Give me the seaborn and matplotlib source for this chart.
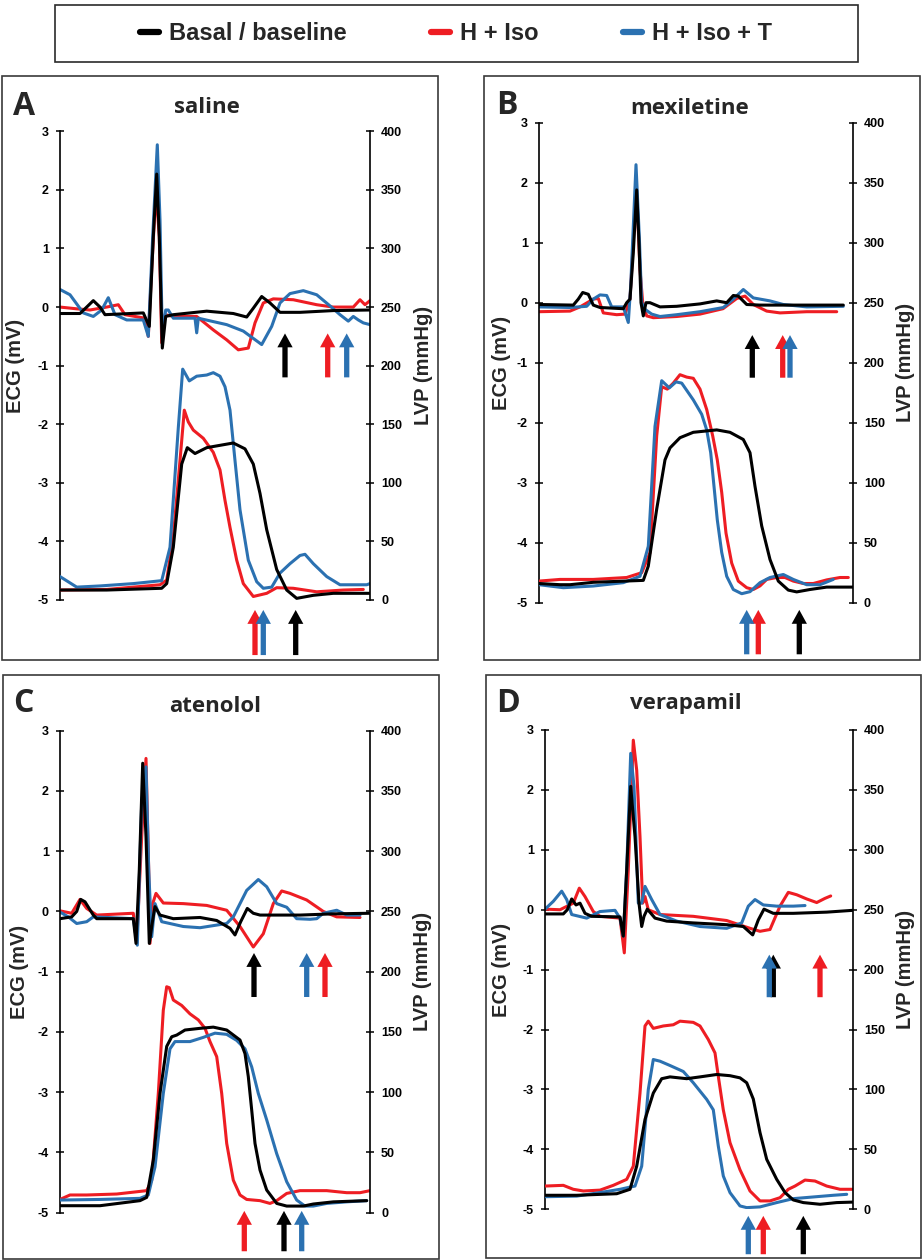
import numpy as np
import matplotlib
matplotlib.use("Agg")
import matplotlib.pyplot as plt
from matplotlib.patches import Rectangle
from matplotlib.lines import Line2D
import seaborn as sns

# ---------------- data ----------------
series_names = ["Basal / baseline", "H + Iso", "H + Iso + T"]
series_colors = ["#000000", "#ee1d23", "#2b71b1"]
panel_letters = ["A", "B", "C", "D"]
panel_titles = ["saline", "mexiletine", "atenolol", "verapamil"]
ecg_ticks = [-5, -4, -3, -2, -1, 0, 1, 2, 3]
lvp_ticks = [0, 50, 100, 150, 200, 250, 300, 350, 400]
time_spans = [310, 313.7, 310, 307.7]

# Panel A (saline) - ECG (mV)
a_ecg_k_t = [0,20,26.7,33.3,40,45,83.3,89.3,93.3,96.7,99.3,102.3,105.7,113.3,146.7,173.3,186.7,193.3,201.7,210,220,240,273.3,310]
a_ecg_k_v = [-0.11,-0.11,0,0.11,0,-0.13,-0.10,-0.33,1.20,2.27,1.20,-0.70,-0.16,-0.13,-0.07,-0.11,-0.17,-0.02,0.18,0.07,-0.09,-0.09,-0.06,-0.05]
a_ecg_r_t = [0,16.7,30,46.7,58.3,65,85,88.3,91.7,96,99.3,101.7,105,113.3,136.7,153.3,166.7,178.3,188.3,195,203.3,213.3,233.3,256.7,273.3,293.3,300,305,310]
a_ecg_r_v = [0,-0.03,-0.05,0,0.04,-0.13,-0.19,-0.50,0.64,2.0,1.20,-0.61,-0.13,-0.16,-0.16,-0.39,-0.56,-0.73,-0.70,-0.27,0.07,0.14,0.125,0.04,0,0,0.125,0.04,0.11]
a_ecg_b_t = [0,10,23.3,33.3,41.7,48.3,55,66.7,83.3,88.3,92.7,97.3,100,102.3,105.7,108.3,113.3,135,136.7,138.3,166.7,183.3,201.7,211.7,220,230,243.3,256.7,270,280,288.3,293.3,298.3,303.3,310]
a_ecg_b_v = [0.30,0.21,-0.10,-0.16,-0.05,0.16,-0.13,-0.22,-0.22,-0.50,1.20,2.77,1.49,-0.50,-0.05,-0.05,-0.19,-0.19,-0.44,-0.19,-0.30,-0.41,-0.64,-0.33,0.07,0.23,0.28,0.21,0.02,-0.13,-0.24,-0.16,-0.22,-0.27,-0.30]
# Panel A - LVP (mmHg)
a_lvp_k_t = [0,46.7,101.7,106.7,113.3,121.7,127.3,135,146.7,160,173.3,185,193.3,200,206.7,216.7,226.7,236.7,253.3,273.3,310]
a_lvp_k_p = [8.5,8.5,10,14,45,116,130,125,130,132,134,129,116,91,60,26,8.5,1.4,4,5.7,5.7]
a_lvp_r_t = [0,46.7,100,106.7,113.3,120,124.3,128.3,133.3,143.3,153.3,160,165,170,176.7,183.3,193.3,206.7,216.7,233.3,256.7,283.3,303.3]
a_lvp_r_p = [8.5,9,13,17,54,119,162,152,145,138,126,111,85,62,34,14,3,5.7,10.5,10,7,8.5,9]
a_lvp_b_t = [0,16.7,40,73.3,101.7,110,118.3,122.7,129.3,136.7,146.7,153.3,160,165,170,175,180,188.3,196.7,203.3,211.7,220,230,240,245,253.3,266.7,280,293.3,306.7,310]
a_lvp_b_p = [20,11,12,14,16.5,45,147,197,187,191,192,194,191,182,162,119,77,34,15.6,10,11,23,31,38,39,31,20,13,13,13,14]
a_arrow_ecg_t = [225, 267.7, 286.7]
a_arrow_lvp_t = [235.7, 195, 203.3]

# Panel B (mexiletine)
b_ecg_k_t = [0,34.3,39.3,43.7,49.3,54.3,61,84.3,87.7,91,94.3,97.7,100,102,104.3,107,111,121,137.7,161,177.7,187.7,194.3,199.3,207.7,221,254.3,304.3]
b_ecg_k_v = [-0.03,-0.04,0.06,0.17,0.14,-0.04,-0.08,-0.10,0,0.06,0.83,1.88,1.0,0,-0.22,0,0,-0.07,-0.06,-0.02,0.03,0,0.12,0.11,-0.03,-0.04,-0.04,-0.04]
b_ecg_r_t = [0,31,41,54.3,59.3,64.3,77.7,86,91,96,98,101,103.7,107.7,114.3,137.7,161,184,197.7,206,214.3,227.7,241,267.7,297.7]
b_ecg_r_v = [-0.15,-0.14,-0.07,0.06,0.07,-0.17,-0.20,-0.19,0.06,1.5,1.7,0.55,0,-0.22,-0.25,-0.23,-0.19,-0.10,0.07,0.11,-0.03,-0.14,-0.17,-0.15,-0.15]
b_ecg_b_t = [0,31,47.7,54.3,61,67.7,72.7,84.3,89.3,91.7,97,100.3,102.7,106,112.7,121,137.7,161,184.3,194.3,204.3,214.3,231,244.3,267.7,304.3]
b_ecg_b_v = [-0.07,-0.08,-0.06,0.06,0.13,0.12,-0.07,-0.07,-0.33,0.28,2.3,1.1,0,-0.11,-0.19,-0.23,-0.20,-0.15,-0.08,0.06,0.22,0.08,0.03,-0.03,-0.07,-0.06]
b_lvp_k_t = [0,21,31,54.3,104.3,109.3,117.7,126,131,141,154.3,177.7,191,204.3,211,216,222.7,231,239.3,249.3,257.7,271,287.7,313.7]
b_lvp_k_p = [16,15,15,17,18.6,30.5,78,119,129,137.5,142,144,142,136,125,97,64,36,18,10.5,9,11,13,13]
b_lvp_r_t = [0,21,54.3,87.7,102.7,111,117.7,122.7,128.3,134.3,141,147.7,154.3,161,167.7,173.7,178.3,182.7,187,192.7,199.3,207.7,214.3,221,227.7,237.7,246,254.3,264.3,274.3,287.7,301,309.3]
b_lvp_r_p = [18,19.4,19.4,21,25,41.7,139,180,178,183,190,188,187,178,161,139,119,92,58,33,18,12.5,11,14,19.4,21,21,18,16,16,19,21,21]
b_lvp_b_t = [0,24.3,54.3,84.3,101,109.3,116,122.7,130.3,137,142.7,154.3,162.7,167.7,171.7,175,178.3,182.7,187.7,194.3,202.7,211,221,231,244.3,254.3,267.7,281,294.3]
b_lvp_b_p = [15,12.5,13.9,16.7,22,47,147,185,179,184,183,169,157,144,125,97,69,42,22,11,7.5,9.2,16.7,21,23.5,19.4,15,15,19.4]
b_arrow_ecg_t = [213.3, 243.7, 251]
b_arrow_lvp_t = [260.3, 219.3, 207.7]

# Panel C (atenolol)
c_ecg_k_t = [0,11.7,16.7,20.7,25,33.3,36.7,73.3,76,79.3,82.7,86,89.3,92.7,95,100,113.3,140,156.7,170,175,180.7,187.3,193.3,200,240,273.3,310]
c_ecg_k_v = [-0.12,-0.09,0,0.2,0.16,-0.06,-0.12,-0.12,-0.53,0.69,2.46,1.24,-0.53,-0.14,0.08,-0.06,-0.12,-0.10,-0.15,-0.28,-0.39,-0.17,0.05,-0.03,-0.06,-0.06,-0.04,-0.03]
c_ecg_r_t = [0,11.7,20,26.7,36.7,73.3,76.7,81.7,86,88.7,90,92.7,96,103.3,123.3,146.7,166.7,180,193.3,203.3,213.3,221.7,230,246.7,263.3,276.7,300]
c_ecg_r_v = [0.01,-0.03,0.2,0.05,-0.06,-0.03,-0.53,1.24,2.54,0.69,-0.53,0.13,0.30,0.14,0.13,0.10,0.02,-0.25,-0.59,-0.37,0.13,0.34,0.30,0.19,0.0,-0.09,-0.10]
c_ecg_b_t = [0,8.3,16.7,26.7,33.3,73.3,77.3,81.7,86,88.7,91.7,95,101.7,123.3,140,166.7,173.3,186.7,198.3,206.7,216.7,226.7,236.7,250,256.7,263.3,276.7,286.7,300]
c_ecg_b_v = [-0.01,-0.09,-0.20,-0.17,-0.09,-0.12,-0.56,1.8,2.4,0.69,-0.42,0.13,-0.17,-0.25,-0.27,-0.20,-0.09,0.35,0.53,0.41,0.13,0.07,-0.12,-0.13,-0.12,-0.03,0.02,-0.06,-0.06]
c_lvp_k_t = [0,40,80,86.7,93.3,100,106.7,111.7,116.7,125,140,153.3,166.7,180,185,188.3,191.7,195,200,206.7,216.7,226.7,243.3,253.3,273.3,306.7]
c_lvp_k_p = [5.8,5.8,10,12.7,43.7,99,138,146,147.4,151.6,153,154,151.6,143.3,132,112.9,85.2,57.5,35.4,18.8,7.7,5.5,5.5,7.2,9,10]
c_lvp_r_t = [0,10,26.7,56.7,86.7,91.7,98.3,103.3,106.7,109.3,113.3,121.7,130,138.3,145,150,156.7,161.7,166.7,173.3,180,186.7,193.3,200,210,216.7,226.7,240,266.7,286.7,300,310]
c_lvp_r_p = [11,14.7,14.7,15.5,18.3,27,99,168,187.5,186.7,176.5,172,165,160,153,142,129.5,99,57.5,27,14.7,11,10.5,10,7.7,10,16,18.3,18.3,16.6,16.6,18.3]
c_lvp_b_t = [0,40,80,88.3,95,103.3,110,115,130,143.3,155,166.7,176.7,185,191.7,198.3,206.7,216.7,226.7,236.7,245,253.3,266.7,286.7,306.7]
c_lvp_b_p = [10.5,11,11.9,14.7,38,99,136,142,142,145.5,149,148,143,136,121,99,77,49,25.7,10.5,5.5,5.5,7.7,9,10]
c_arrow_ecg_t = [194, 265, 246.7]
c_arrow_lvp_t = [224, 184.3, 241.7]

# Panel D (verapamil)
d_ecg_k_t = [0,18.3,22.3,26.7,31,35,40,46.7,75,78.3,81.7,85.7,90,94,96.7,99,102.3,110,121.7,148.3,181.7,198.3,207.7,213.3,219,228.3,248.3,281.7,307.7]
d_ecg_k_v = [-0.07,-0.07,0,0.18,0.08,0.11,-0.06,-0.11,-0.12,-0.44,0.67,2.06,1.22,0.11,-0.28,-0.11,0.01,-0.14,-0.19,-0.22,-0.25,-0.28,-0.42,-0.17,0.01,-0.06,-0.06,-0.04,-0.01]
d_ecg_r_t = [0,15,28.3,34.3,40,48.3,55,75,79.3,83.3,88.3,91.7,95,97.7,100,103.3,115,148.3,181.7,205,215,225,235,243.3,251.7,261.7,271.7,280,285.7]
d_ecg_r_v = [0.01,0,0.11,0.36,0.22,-0.03,-0.11,-0.14,-0.72,0.67,2.83,2.33,1.22,0.11,0.22,0,-0.08,-0.11,-0.18,-0.31,-0.36,-0.33,0.06,0.29,0.25,0.18,0.12,0.19,0.23]
d_ecg_b_t = [0,8.3,16.7,21.7,26.7,41.7,55,70,75,78.3,81.7,85.7,89,93.3,96.7,100,106.7,115,131.7,155,181.7,196.7,203.3,210,218.3,231.7,248.3,260]
d_ecg_b_v = [0.01,0.14,0.31,0.17,-0.08,-0.14,-0.03,-0.01,-0.14,-0.44,0.67,2.61,2.06,0.11,0.11,0.39,0.17,-0.08,-0.19,-0.28,-0.31,-0.22,0.06,0.17,0.08,0.06,0.06,0.07]
d_lvp_k_t = [0,31.7,71.7,85,91.7,100,108.3,116.7,125,141.7,155,171.7,185,195,201.7,208.3,215,221.7,231.7,240,248.3,258.3,275,291.7,307.7]
d_lvp_k_p = [11.7,11.7,13,16.7,36,75,97,109,110.5,109,110.5,112.5,111.5,109.7,105.6,92,64,41.7,25,14,7.8,5.6,4.2,5.6,6]
d_lvp_r_t = [0,18.3,28.3,38.3,55,68.3,81.7,88.3,95,100,103.3,108.3,118.3,128.3,135,148.3,155,163.3,170,173.3,178.3,185,195,205,215,225,235,243.3,250,260,270,281.7,295,307.7]
d_lvp_r_p = [19.4,20,16.7,15.3,16,20,25,36,97,153,157,151,153,154,157,156,153,141.7,130.5,111,83,55.6,33,15.3,7,7,9.7,16.7,19.4,24.4,23.6,19.4,16.7,16.7]
d_lvp_b_t = [0,31.7,58.3,75,90,96.7,103.3,108.3,115,125,138.3,148.3,161.7,168.3,173.3,178.3,185,195,201.7,215,231.7,248.3,268.3,288.3,301.7]
d_lvp_b_p = [10.5,11,14.4,16.7,19.4,36,100,125,123.6,120,115,105.6,91.7,83,52.8,27.8,13.9,2.8,1.4,2,5.6,8.9,10.3,11.7,12.5]
d_arrow_ecg_t = [228.3, 275, 224.3]
d_arrow_lvp_t = [258.3, 218.3, 203.3]

# ---------------- style ----------------
sns.set_style("white")
plt.rcParams["font.family"] = ["Liberation Sans", "DejaVu Sans"]
plt.rcParams["font.weight"] = "bold"
plt.rcParams["axes.unicode_minus"] = False
TITLE_FONT = ["Open Sans", "DejaVu Sans"]

W, H = 923, 1260
fig = plt.figure(figsize=(W / 100, H / 100), dpi=100)
fig.patch.set_facecolor("white")


def fig_rect(x0, y0, x1, y1):
    return [x0 / W, 1 - y1 / H, (x1 - x0) / W, (y1 - y0) / H]


def add_box(x0, y0, x1, y1, ec="#3a3a3a", lw=1.2):
    r = fig_rect(x0, y0, x1, y1)
    fig.add_artist(Rectangle((r[0], r[1]), r[2], r[3], transform=fig.transFigure,
                             fill=False, ec=ec, lw=lw))


panels = [
    dict(ecg=[(a_ecg_r_t, a_ecg_r_v), (a_ecg_b_t, a_ecg_b_v), (a_ecg_k_t, a_ecg_k_v)],
         lvp=[(a_lvp_r_t, a_lvp_r_p), (a_lvp_b_t, a_lvp_b_p), (a_lvp_k_t, a_lvp_k_p)],
         arr_e=a_arrow_ecg_t, arr_l=a_arrow_lvp_t,
         axpx=(60, 131.3, 370, 600), box=(2, 76, 438, 660),
         ay=(-0.45, -1.2, -5.17, -5.94), lab=(-0.142, 1.171),
         title_xy=(207, 113), letter_xy=(13, 115)),
    dict(ecg=[(b_ecg_r_t, b_ecg_r_v), (b_ecg_b_t, b_ecg_b_v), (b_ecg_k_t, b_ecg_k_v)],
         lvp=[(b_lvp_r_t, b_lvp_r_p), (b_lvp_b_t, b_lvp_b_p), (b_lvp_k_t, b_lvp_k_p)],
         arr_e=b_arrow_ecg_t, arr_l=b_arrow_lvp_t,
         axpx=(539, 122.7, 852.7, 602.7), box=(484, 76, 920, 660),
         ay=(-0.54, -1.25, -5.12, -5.86), lab=(-0.121, 1.167),
         title_xy=(690, 114), letter_xy=(496, 114)),
    dict(ecg=[(c_ecg_r_t, c_ecg_r_v), (c_ecg_b_t, c_ecg_b_v), (c_ecg_k_t, c_ecg_k_v)],
         lvp=[(c_lvp_r_t, c_lvp_r_p), (c_lvp_b_t, c_lvp_b_p), (c_lvp_k_t, c_lvp_k_p)],
         arr_e=c_arrow_ecg_t, arr_l=c_arrow_lvp_t,
         axpx=(60, 730.7, 370, 1212.7), box=(3, 675, 439, 1259),
         ay=(-0.69, -1.42, -4.97, -5.64), lab=(-0.132, 1.168),
         title_xy=(215, 711.5), letter_xy=(13, 712.5)),
    dict(ecg=[(d_ecg_r_t, d_ecg_r_v), (d_ecg_b_t, d_ecg_b_v), (d_ecg_k_t, d_ecg_k_v)],
         lvp=[(d_lvp_r_t, d_lvp_r_p), (d_lvp_b_t, d_lvp_b_p), (d_lvp_k_t, d_lvp_k_p)],
         arr_e=d_arrow_ecg_t, arr_l=d_arrow_lvp_t,
         axpx=(545, 730, 852.7, 1209.3), box=(486, 675, 921, 1258),
         ay=(-0.75, -1.46, -5.11, -5.75), lab=(-0.140, 1.170),
         title_xy=(686, 709.5), letter_xy=(496, 712.5)),
]

draw_colors = [series_colors[1], series_colors[2], series_colors[0]]  # red, blue, black on top
arrow_style = "simple,head_length=1.0,head_width=1.1,tail_width=0.38"

for i, p in enumerate(panels):
    add_box(*p["box"])
    ax = fig.add_axes(fig_rect(*p["axpx"]))
    ax2 = ax.twinx()
    ax.patch.set_alpha(0)

    for (t, v), c in zip(p["ecg"], draw_colors):
        sns.lineplot(x=np.array(t), y=np.array(v), ax=ax, color=c, linewidth=2.2,
                     sort=False, estimator=None, legend=False, solid_joinstyle="round")
    for (t, v), c in zip(p["lvp"], draw_colors):
        sns.lineplot(x=np.array(t), y=np.array(v), ax=ax2, color=c, linewidth=2.2,
                     sort=False, estimator=None, legend=False, solid_joinstyle="round")

    ax.set_xlim(0, time_spans[i])
    ax.set_ylim(-5, 3)
    ax2.set_ylim(0, 400)
    ax.set_yticks(ecg_ticks)
    ax.set_yticklabels([str(v) for v in ecg_ticks])
    ax2.set_yticks(lvp_ticks)
    ax2.set_yticklabels([str(v) for v in lvp_ticks])
    ax.xaxis.set_visible(False)
    ax2.xaxis.set_visible(False)
    for s in ["top", "bottom", "right"]:
        ax.spines[s].set_visible(False)
    for s in ["top", "bottom", "left"]:
        ax2.spines[s].set_visible(False)
    ax.spines["left"].set_linewidth(1.2)
    ax2.spines["right"].set_linewidth(1.2)
    ax.spines["left"].set_color("black")
    ax2.spines["right"].set_color("black")
    ax.tick_params(axis="y", direction="inout", length=6, width=1.1, labelsize=9, pad=5, colors="black")
    ax2.tick_params(axis="y", direction="inout", length=6, width=1.1, labelsize=9, pad=5, colors="black")

    ax.set_ylabel("ECG (mV)", fontsize=14.5, fontweight="bold")
    ax.yaxis.set_label_coords(p["lab"][0], 0.5)
    ax.yaxis.label.set_va("center")
    ax2.set_ylabel("LVP (mmHg)", fontsize=14.5, fontweight="bold", rotation=90)
    ax2.yaxis.set_label_coords(p["lab"][1], 0.5)
    ax2.yaxis.label.set_va("center")

    tip_e, tail_e, tip_l, tail_l = p["ay"]
    for t, c in zip(p["arr_e"], series_colors):
        ax.annotate("", xy=(t, tip_e), xytext=(t, tail_e), annotation_clip=False,
                    arrowprops=dict(arrowstyle=arrow_style, mutation_scale=10, color=c,
                                    shrinkA=0, shrinkB=0, lw=0))
    for t, c in zip(p["arr_l"], series_colors):
        ax.annotate("", xy=(t, tip_l), xytext=(t, tail_l), annotation_clip=False,
                    arrowprops=dict(arrowstyle=arrow_style, mutation_scale=10, color=c,
                                    shrinkA=0, shrinkB=0, lw=0))

    tx, ty = p["title_xy"]
    fig.text(tx / W, 1 - ty / H, panel_titles[i], ha="center", va="baseline",
             fontsize=16, fontweight="bold", family=TITLE_FONT)
    lx, ly = p["letter_xy"]
    fig.text(lx / W, 1 - ly / H, panel_letters[i], ha="left", va="baseline",
             fontsize=23, fontweight="bold", family=TITLE_FONT)

# legend
add_box(55, 5, 858, 62, ec="#2a2a2a", lw=1.2)
handles = [Line2D([0], [0], color=c, lw=4.5, solid_capstyle="round") for c in series_colors]
fig.legend(handles, series_names, loc="center", bbox_to_anchor=(456 / W, 1 - 34 / H),
           ncol=3, frameon=False, fontsize=17, handlelength=0.8, handletextpad=0.42,
           columnspacing=3.6, borderpad=0.2, prop=dict(size=17, weight="bold"))

fig.savefig("out.png", dpi=100, facecolor="white")
